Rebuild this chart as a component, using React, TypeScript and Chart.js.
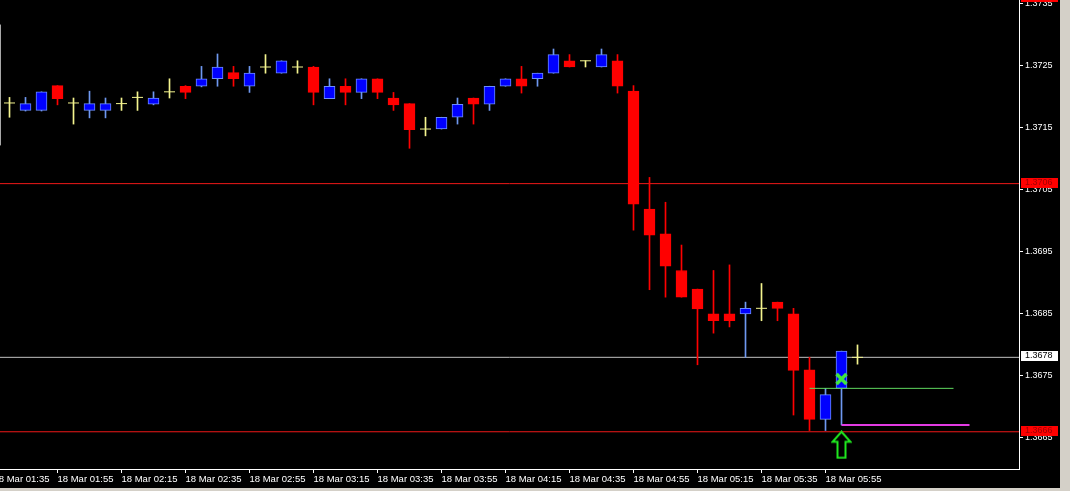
import React, { useEffect, useRef } from 'react';
import { Chart, registerables } from 'chart.js';

Chart.register(...registerables);

// ---- Data (5 minute candles, 18 Mar 01:40 .. 06:05) ----
const opens = [
  1.37190, 1.37178, 1.37178, 1.37218, 1.37190, 1.37178, 1.37178, 1.37189, 1.37199, 1.37188,
  1.37208, 1.37217, 1.37217, 1.37229, 1.37239, 1.37217, 1.37248, 1.37238, 1.37248, 1.37248,
  1.37197, 1.37217, 1.37207, 1.37229, 1.37198, 1.37189, 1.37148, 1.37148, 1.37167, 1.37198,
  1.37188, 1.37217, 1.37229, 1.37229, 1.37238, 1.37258, 1.37258, 1.37248, 1.37258, 1.37209,
  1.37019, 1.36979, 1.36920, 1.36890, 1.36850, 1.36850, 1.36850, 1.36859, 1.36869, 1.36850,
  1.36760, 1.36680, 1.36730, 1.36780,
];
const highs = [
  1.37199, 1.37199, 1.37208, 1.37218, 1.37198, 1.37209, 1.37198, 1.37198, 1.37208, 1.37208,
  1.37229, 1.37218, 1.37249, 1.37269, 1.37249, 1.37249, 1.37268, 1.37258, 1.37258, 1.37249,
  1.37229, 1.37229, 1.37229, 1.37229, 1.37207, 1.37189, 1.37167, 1.37167, 1.37198, 1.37198,
  1.37217, 1.37229, 1.37249, 1.37238, 1.37277, 1.37268, 1.37258, 1.37277, 1.37268, 1.37218,
  1.37070, 1.37030, 1.36961, 1.36890, 1.36920, 1.36929, 1.36869, 1.36899, 1.36869, 1.36859,
  1.36780, 1.36730, 1.36790, 1.36800,
];
const lows = [
  1.37167, 1.37177, 1.37177, 1.37187, 1.37156, 1.37166, 1.37166, 1.37178, 1.37178, 1.37187,
  1.37198, 1.37197, 1.37216, 1.37217, 1.37217, 1.37207, 1.37238, 1.37238, 1.37238, 1.37187,
  1.37197, 1.37187, 1.37197, 1.37197, 1.37178, 1.37117, 1.37137, 1.37148, 1.37156, 1.37156,
  1.37178, 1.37217, 1.37206, 1.37217, 1.37238, 1.37248, 1.37248, 1.37248, 1.37206, 1.36985,
  1.36889, 1.36877, 1.36877, 1.36768, 1.36819, 1.36829, 1.36780, 1.36839, 1.36839, 1.36687,
  1.36662, 1.36662, 1.36671, 1.36769,
];
const closes = [
  1.37190, 1.37189, 1.37208, 1.37197, 1.37190, 1.37189, 1.37189, 1.37189, 1.37199, 1.37198,
  1.37208, 1.37207, 1.37229, 1.37248, 1.37229, 1.37238, 1.37248, 1.37258, 1.37248, 1.37207,
  1.37217, 1.37207, 1.37229, 1.37207, 1.37187, 1.37147, 1.37148, 1.37167, 1.37188, 1.37188,
  1.37217, 1.37229, 1.37217, 1.37238, 1.37268, 1.37248, 1.37258, 1.37268, 1.37217, 1.37027,
  1.36977, 1.36927, 1.36877, 1.36858, 1.36839, 1.36839, 1.36859, 1.36859, 1.36859, 1.36759,
  1.36680, 1.36720, 1.36790, 1.36780,
];

const tickLabels = [
  '18 Mar 01:35', '18 Mar 01:55', '18 Mar 02:15', '18 Mar 02:35', '18 Mar 02:55',
  '18 Mar 03:15', '18 Mar 03:35', '18 Mar 03:55', '18 Mar 04:15', '18 Mar 04:35',
  '18 Mar 04:55', '18 Mar 05:15', '18 Mar 05:35', '18 Mar 05:55',
];
const firstTickBar = -1;
const barsPerTick = 4;

const priceTicks = [1.3665, 1.3675, 1.3685, 1.3695, 1.3705, 1.3715, 1.3725, 1.3735];
const priceMin = 1.3660;
const priceMax = 1.37356;

// horizontal levels
const levelPrices = [1.3706, 1.3678, 1.3666];
const tagPrices = [1.3736, 1.3706, 1.3678, 1.3666];

// signal objects
const greenLineBars = [50, 59];
const greenLinePrice = 1.3673;
const magentaLineBars = [52, 60];
const magentaLinePrice = 1.36671;
const signalBar = 52;
const crossPrice = 1.36745;
const arrowPrice = 1.36639;
const leftMarkPrices = [1.37316, 1.37122];

// ---- styles ----
const BULL = '#0000ff';
const BULL_EDGE = '#6b8cff';
const BULL_WICK = '#6f98f0';
const BEAR = '#ff0000';
const DOJI = '#f4f48e';
const FONT_Y = { family: '"Liberation Sans", Arial, sans-serif', size: 9 };
const FONT_X = { family: '"Liberation Sans", Arial, sans-serif', size: 9.5 };
const levelColors = ['#f01818', '#c0c0c0', '#f01818'];
const tagBg = ['#ff0000', '#ff0000', '#ffffff', '#ff0000'];
const tagFg = ['#a00000', '#a00000', '#000000', '#a00000'];

const X_MIN = -0.59375;
const X_MAX = X_MIN + 1019 / 16;

function makeArrow(): HTMLCanvasElement {
  const c = document.createElement('canvas');
  c.width = 21;
  c.height = 29;
  const g = c.getContext('2d')!;
  g.strokeStyle = '#1fe81f';
  g.lineWidth = 2;
  g.lineJoin = 'miter';
  g.beginPath();
  g.moveTo(10.5, 1.5);
  g.lineTo(19.5, 11.5);
  g.lineTo(14.5, 11.5);
  g.lineTo(14.5, 27.5);
  g.lineTo(6.5, 27.5);
  g.lineTo(6.5, 11.5);
  g.lineTo(1.5, 11.5);
  g.closePath();
  g.stroke();
  return c;
}

const tagPlugin = {
  id: 'priceTags',
  afterDraw(chart: any) {
    const ys = chart.scales.y;
    const ctx = chart.ctx;
    const left = chart.chartArea.right + 2;
    ctx.save();
    tagPrices.forEach((v, k) => {
      const py = Math.round(ys.getPixelForValue(v));
      ctx.fillStyle = tagBg[k];
      ctx.fillRect(left, py - 6, 37, 10);
      ctx.fillStyle = tagFg[k];
      ctx.font = `${FONT_Y.size}px ${FONT_Y.family}`;
      ctx.textBaseline = 'middle';
      ctx.textAlign = 'left';
      ctx.fillText(v.toFixed(4), left + 4, py - 1);
    });
    ctx.restore();
  },
};

export default function App() {
  const ref = useRef<HTMLCanvasElement>(null);

  useEffect(() => {
    const bodyData: any[] = [];
    const bodyBg: string[] = [];
    const bodyEdge: string[] = [];
    const wickData: any[] = [];
    const wickColor: string[] = [];
    const dojiData: any[] = [];
    opens.forEach((o, i) => {
      const c = closes[i];
      wickData.push({ x: i, y: [lows[i], highs[i]] });
      if (c > o) {
        bodyData.push({ x: i, y: [o, c] });
        bodyBg.push(BULL);
        bodyEdge.push(BULL_EDGE);
        wickColor.push(BULL_WICK);
      } else if (c < o) {
        bodyData.push({ x: i, y: [c, o] });
        bodyBg.push(BEAR);
        bodyEdge.push(BEAR);
        wickColor.push(BEAR);
      } else {
        dojiData.push({ x: i, y: o });
        wickColor.push(DOJI);
      }
    });

    const levelSets = levelPrices.map((p, k) => ({
      type: 'line',
      data: [{ x: X_MIN - 1, y: p }, { x: X_MAX + 1, y: p }],
      borderColor: levelColors[k],
      borderWidth: 1,
      pointRadius: 0,
      order: 10,
    }));

    const arrow = makeArrow();

    const chart = new Chart(ref.current!, {
      type: 'bar',
      data: {
        datasets: [
          ...levelSets,
          {
            type: 'line',
            data: [
              { x: X_MIN + 1 / 32, y: leftMarkPrices[0] },
              { x: X_MIN + 1 / 32, y: leftMarkPrices[1] },
            ],
            borderColor: '#a8a8a8',
            borderWidth: 1,
            pointRadius: 0,
            order: 10,
          },
          {
            type: 'bar',
            data: wickData,
            backgroundColor: wickColor,
            borderWidth: 0,
            barThickness: 1,
            grouped: false,
            order: 6,
          },
          {
            type: 'bar',
            data: bodyData,
            backgroundColor: bodyBg,
            borderColor: bodyEdge,
            borderWidth: 1,
            borderSkipped: false,
            barThickness: 11,
            grouped: false,
            order: 5,
          },
          {
            type: 'line',
            data: dojiData,
            showLine: false,
            pointStyle: 'line',
            pointRadius: 5.5,
            pointHoverRadius: 5.5,
            borderColor: DOJI,
            borderWidth: 1,
            order: 5,
          },
          {
            type: 'line',
            data: [
              { x: greenLineBars[0], y: greenLinePrice },
              { x: greenLineBars[1], y: greenLinePrice },
            ],
            borderColor: '#5fd85f',
            borderWidth: 1,
            pointRadius: 0,
            order: 3,
          },
          {
            type: 'line',
            data: [
              { x: magentaLineBars[0], y: magentaLinePrice },
              { x: magentaLineBars[1], y: magentaLinePrice },
            ],
            borderColor: '#e33be3',
            borderWidth: 2,
            pointRadius: 0,
            order: 3,
          },
          {
            type: 'line',
            data: [{ x: signalBar, y: crossPrice }],
            showLine: false,
            pointStyle: 'crossRot',
            pointRadius: 7,
            pointHoverRadius: 7,
            borderColor: '#3fe63f',
            borderWidth: 3.5,
            order: 1,
          },
          {
            type: 'line',
            data: [{ x: signalBar, y: arrowPrice }],
            showLine: false,
            pointStyle: arrow,
            pointRadius: 10,
            order: 1,
            clip: false,
          },
        ] as any,
      },
      options: {
        animation: false,
        responsive: false,
        maintainAspectRatio: false,
        events: [],
        layout: { padding: 0, autoPadding: false },
        plugins: {
          legend: { display: false },
          tooltip: { enabled: false },
          title: { display: false },
        },
        scales: {
          x: {
            type: 'linear',
            position: 'bottom',
            offset: false,
            min: X_MIN,
            max: X_MAX,
            afterBuildTicks: (s: any) => {
              s.ticks = tickLabels.map((_, k) => ({ value: firstTickBar + k * barsPerTick }));
            },
            afterFit: (s: any) => {
              s.height = 19;
              s.paddingLeft = 0;
              s.paddingRight = 0;
            },
            ticks: {
              autoSkip: false,
              maxRotation: 0,
              minRotation: 0,
              align: 'start',
              padding: 1,
              color: '#ffffff',
              font: FONT_X,
              callback: (_v: any, i: number) => tickLabels[i],
            },
            grid: {
              display: true,
              offset: false,
              drawOnChartArea: false,
              drawTicks: true,
              tickLength: 4,
              color: '#ffffff',
            },
            border: { display: true, color: '#ffffff', width: 1 },
          },
          y: {
            type: 'linear',
            position: 'right',
            min: priceMin,
            max: priceMax,
            afterBuildTicks: (s: any) => {
              s.ticks = priceTicks.map((v) => ({ value: v }));
            },
            afterFit: (s: any) => {
              s.width = 41;
              s.paddingTop = 0;
              s.paddingBottom = 0;
            },
            ticks: {
              color: '#ffffff',
              padding: 2,
              font: FONT_Y,
              callback: (v: any) => Number(v).toFixed(4),
            },
            grid: {
              display: true,
              drawOnChartArea: false,
              drawTicks: true,
              tickLength: 4,
              color: '#ffffff',
            },
            border: { display: true, color: '#ffffff', width: 1 },
          },
        },
      } as any,
      plugins: [tagPlugin],
    });
    return () => chart.destroy();
  }, []);

  return (
    <div
      style={{
        position: 'fixed',
        left: 0,
        top: 0,
        width: 1070,
        height: 491,
        background: '#d4d0c8',
        overflow: 'hidden',
      }}
    >
      <canvas
        ref={ref}
        width={1060}
        height={488}
        style={{ display: 'block', background: '#000000', width: 1060, height: 488 }}
      />
    </div>
  );
}
